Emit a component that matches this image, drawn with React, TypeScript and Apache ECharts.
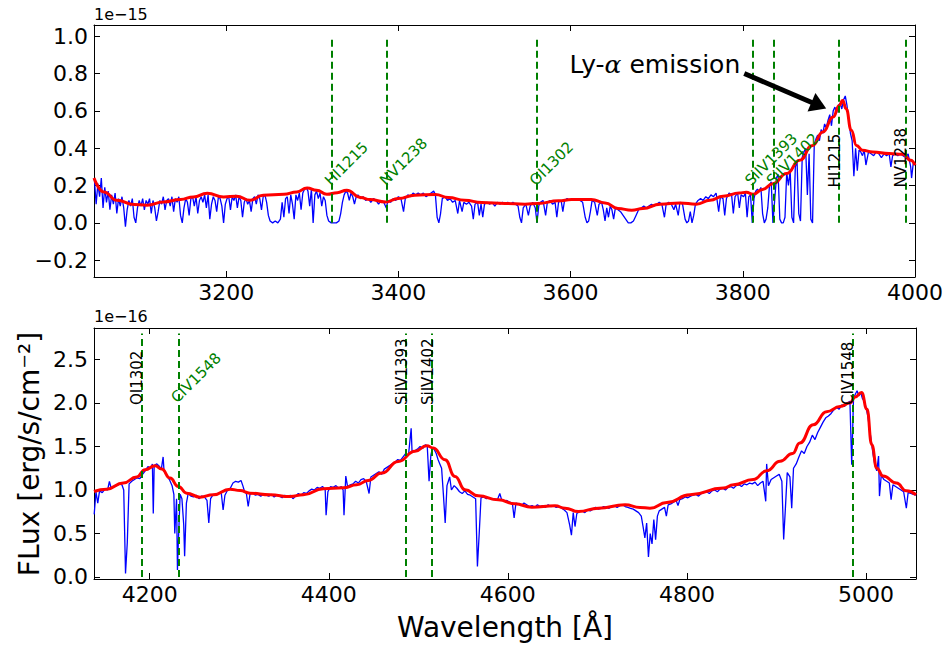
import { useEffect, useRef } from 'react';
import * as echarts from 'echarts';

const FONT = '"DejaVu Sans", "Liberation Sans", sans-serif';

// ---------- axes / ticks ----------
const topXRange = [3046.5, 4000];
const topYRange = [-0.29, 1.06];
const bottomXRange = [4137.8, 5055.8];
const bottomYRange = [-0.023, 2.862];
const topXTicks = [3200, 3400, 3600, 3800, 4000];
const topYTicks = [-0.2, 0, 0.2, 0.4, 0.6, 0.8, 1.0];
const bottomXTicks = [4200, 4400, 4600, 4800, 5000];
const bottomYTicks = [0, 0.5, 1.0, 1.5, 2.0, 2.5];

// ---------- line identifications ----------
const topGreenLines = [3323, 3387, 3561, 3811, 3836];
const topGreenNames = ['HI1215', 'NV1238', 'OI1302', 'SiIV1393', 'SiIV1402'];
const topBlackLines = [3912, 3989];
const topBlackNames = ['HI1215', 'NV1238'];
const bottomGreenLines = [4232];
const bottomGreenNames = ['CIV1548'];
const bottomBlackLines = [4191, 4486, 4515, 4985];
const bottomBlackNames = ['OI1302', 'SiIV1393', 'SiIV1402', 'CIV1548'];
const topLineTop = 1.0;
const topLabelY = 0.2;
const bottomLineTop = 2.8;
const bottomLabelY = 2.0;
const lyaTextPos = [3600, 0.8];
const lyaArrowFrom = [3801.7, 0.8];
const lyaArrowTo = [3888.3, 0.629];

// ---------- top spectrum (x1e-15) ----------
const topBlue = [
  [3047,0.23],[3049,0.10],[3051,0.21],[3053,0.14],[3055,0.24],[3057,0.08],[3059,0.19],[3061,0.11],[3063,0.17],[3065,0.07],
  [3067,0.15],[3069,0.10],[3071,0.16],[3073,0.05],[3075,0.13],[3077,0.09],[3079,0.14],[3081,0.08],[3083,-0.02],[3085,0.07],
  [3087,0.12],[3089,0.09],[3091,0.13],[3093,0.03],[3095,0.00],[3097,0.08],[3099,0.12],[3101,0.09],[3103,0.13],[3105,0.07],
  [3107,0.12],[3109,0.10],[3111,0.13],[3113,0.05],[3115,0.12],[3117,0.08],[3119,0.01],[3121,0.06],[3123,0.12],[3125,0.10],
  [3127,0.14],[3129,0.07],[3131,0.12],[3133,0.13],[3135,0.09],[3137,0.14],[3139,0.06],[3141,0.13],[3143,0.11],[3145,0.14],
  [3147,0.04],[3149,0.00],[3151,0.08],[3153,0.13],[3155,0.11],[3157,0.04],[3159,0.13],[3161,0.14],[3163,0.09],[3165,0.14],
  [3167,0.05],[3169,0.12],[3171,0.14],[3173,0.11],[3175,0.15],[3177,0.08],[3179,0.15],[3181,0.02],[3183,0.10],[3185,0.14],
  [3187,0.12],[3189,0.06],[3191,0.14],[3193,0.13],[3195,0.09],[3197,0.00],[3199,0.10],[3201,0.13],[3203,0.14],[3205,0.07],
  [3207,0.14],[3209,0.12],[3211,0.15],[3213,0.08],[3215,0.14],[3217,0.12],[3219,0.03],[3221,0.11],[3223,0.13],[3225,0.10],
  [3227,0.12],[3229,0.06],[3231,0.13],[3233,0.14],[3235,0.10],[3237,0.15],[3239,0.13],[3241,0.07],[3243,0.14],[3245,0.15],
  [3247,0.11],[3249,0.04],[3251,0.01],[3254,0.00],[3257,0.01],[3260,0.00],[3263,0.02],[3265,0.11],[3267,0.03],[3269,0.13],
  [3271,0.14],[3273,0.05],[3275,0.15],[3277,0.10],[3279,0.02],[3281,0.15],[3283,0.12],[3285,0.16],[3287,0.07],[3289,0.16],
  [3291,0.18],[3293,0.19],[3295,0.17],[3297,0.09],[3299,0.18],[3301,0.00],[3303,0.15],[3305,0.17],[3307,0.13],[3309,0.16],
  [3311,0.09],[3313,0.14],[3315,0.12],[3317,0.04],[3319,0.01],[3322,0.00],[3325,0.00],[3328,0.00],[3331,0.01],[3333,0.05],
  [3335,0.11],[3337,0.15],[3339,0.17],[3341,0.16],[3343,0.12],[3345,0.16],[3347,0.14],[3349,0.10],[3351,0.14],[3353,0.15],
  [3356,0.13],[3359,0.14],[3362,0.12],[3365,0.13],[3368,0.11],[3371,0.13],[3374,0.12],[3377,0.10],[3380,0.12],[3383,0.11],
  [3386,0.08],[3388,0.12],[3391,0.11],[3394,0.13],[3397,0.12],[3400,0.14],[3403,0.13],[3406,0.06],[3408,0.13],[3411,0.15],
  [3414,0.14],[3417,0.16],[3420,0.15],[3423,0.16],[3426,0.15],[3429,0.16],[3432,0.14],[3435,0.15],[3438,0.16],[3441,0.17],
  [3443,0.15],[3445,0.03],[3447,0.00],[3449,0.05],[3451,0.13],[3454,0.14],[3457,0.12],[3460,0.13],[3463,0.11],[3466,0.12],
  [3469,0.05],[3471,0.12],[3474,0.06],[3476,0.11],[3479,0.10],[3482,0.11],[3485,0.09],[3487,0.02],[3489,0.10],[3492,0.11],
  [3494,0.04],[3496,0.10],[3498,0.03],[3500,0.10],[3503,0.11],[3506,0.10],[3509,0.11],[3512,0.09],[3515,0.11],[3518,0.10],
  [3521,0.11],[3524,0.10],[3527,0.11],[3530,0.10],[3533,0.11],[3536,0.10],[3539,0.09],[3541,0.03],[3543,0.00],[3545,0.08],
  [3548,0.10],[3551,0.04],[3553,0.09],[3556,0.11],[3559,0.08],[3561,0.00],[3563,0.09],[3565,0.11],[3568,0.12],[3571,0.04],
  [3573,0.11],[3576,0.12],[3579,0.10],[3582,0.11],[3584,0.03],[3586,0.11],[3589,0.12],[3591,0.06],[3593,0.12],[3596,0.13],
  [3599,0.12],[3602,0.13],[3605,0.12],[3608,0.13],[3611,0.12],[3614,0.11],[3617,0.03],[3619,0.00],[3621,0.01],[3623,0.06],
  [3625,0.12],[3628,0.11],[3631,0.04],[3633,0.10],[3636,0.11],[3638,0.07],[3640,0.01],[3642,0.08],[3644,0.03],[3646,0.09],
  [3648,0.07],[3650,0.02],[3652,0.08],[3655,0.07],[3658,0.06],[3661,0.04],[3664,0.02],[3667,0.00],[3670,0.00],[3673,0.01],
  [3676,0.04],[3679,0.07],[3682,0.08],[3685,0.09],[3688,0.08],[3691,0.09],[3694,0.10],[3697,0.09],[3700,0.10],[3703,0.11],
  [3706,0.10],[3709,0.03],[3711,0.10],[3714,0.11],[3717,0.10],[3720,0.07],[3722,0.10],[3725,0.04],[3727,0.11],[3730,0.10],
  [3733,0.02],[3735,0.00],[3737,0.01],[3739,0.06],[3741,0.00],[3743,0.04],[3745,0.10],[3748,0.12],[3751,0.13],[3754,0.12],
  [3757,0.14],[3760,0.13],[3763,0.15],[3766,0.14],[3769,0.16],[3772,0.06],[3774,0.14],[3777,0.13],[3779,0.04],[3781,0.13],
  [3784,0.16],[3787,0.15],[3789,0.05],[3791,0.14],[3794,0.16],[3796,0.08],[3798,0.15],[3801,0.14],[3803,0.16],[3805,0.03],
  [3807,0.14],[3809,0.15],[3811,0.00],[3813,0.13],[3815,0.17],[3817,0.18],[3819,0.17],[3821,0.19],[3823,0.05],[3825,0.00],
  [3827,0.02],[3829,0.08],[3831,0.20],[3833,0.22],[3835,0.00],[3837,0.12],[3839,0.24],[3841,0.26],[3843,0.02],[3845,0.00],
  [3847,0.00],[3849,0.03],[3851,0.27],[3853,0.20],[3855,0.28],[3857,0.03],[3859,0.00],[3861,0.30],[3863,0.33],[3865,0.05],
  [3867,0.01],[3869,0.35],[3871,0.38],[3873,0.40],[3875,0.15],[3877,0.37],[3879,0.02],[3881,0.00],[3883,0.42],[3885,0.45],
  [3887,0.47],[3889,0.44],[3891,0.50],[3893,0.48],[3895,0.53],[3897,0.51],[3899,0.55],[3901,0.58],[3903,0.52],[3905,0.60],
  [3907,0.62],[3909,0.59],[3911,0.63],[3913,0.64],[3915,0.61],[3917,0.66],[3919,0.68],[3921,0.63],[3923,0.55],[3925,0.48],
  [3927,0.44],[3929,0.25],[3931,0.40],[3933,0.28],[3935,0.39],[3937,0.38],[3939,0.36],[3941,0.39],[3943,0.31],[3946,0.38],
  [3949,0.37],[3952,0.36],[3955,0.38],[3958,0.37],[3961,0.35],[3964,0.37],[3967,0.36],[3970,0.37],[3972,0.30],[3974,0.36],
  [3977,0.37],[3980,0.36],[3983,0.37],[3986,0.36],[3989,0.35],[3992,0.37],[3995,0.30],[3996,0.24],[3998,0.32],[4000,0.31],
];
const topRed = [
  [3046.5,0.24],[3058,0.166],[3073,0.121],[3093,0.098],[3108,0.095],[3127,0.112],[3147,0.125],[3162,0.139],[3178,0.158],
  [3197,0.139],[3212,0.143],[3228,0.121],[3243,0.148],[3267,0.153],[3282,0.166],[3294,0.187],[3305,0.175],[3317,0.153],
  [3329,0.162],[3340,0.175],[3356,0.136],[3367,0.125],[3385,0.112],[3400,0.130],[3419,0.148],[3443,0.152],[3458,0.136],
  [3477,0.121],[3497,0.109],[3524,0.104],[3547,0.100],[3562,0.104],[3586,0.118],[3601,0.125],[3624,0.125],[3640,0.107],
  [3655,0.077],[3671,0.068],[3684,0.077],[3704,0.100],[3727,0.107],[3746,0.100],[3762,0.121],[3777,0.143],[3796,0.160],
  [3804,0.164],[3812,0.153],[3823,0.179],[3835,0.21],[3851,0.264],[3866,0.335],[3881,0.415],[3893,0.487],[3905,0.567],
  [3912,0.629],[3916,0.655],[3920,0.612],[3926,0.496],[3932,0.415],[3939,0.389],[3951,0.38],[3970,0.371],[3986,0.367],
  [3995,0.335],[4000,0.309],
];

// ---------- bottom spectrum (x1e-16) ----------
const bottomBlue = [
  [4138,0.72],[4140,0.98],[4142,0.85],[4144,0.99],[4147,0.97],[4150,1.01],[4153,1.00],[4155,1.10],[4157,1.02],[4160,1.04],
  [4163,1.05],[4166,1.07],[4169,1.06],[4171,1.00],[4173,0.04],[4175,0.40],[4177,1.07],[4180,1.10],[4183,1.12],[4186,1.14],
  [4189,1.13],[4192,1.18],[4195,1.22],[4198,1.27],[4201,1.25],[4203,1.30],[4204,0.73],[4205,1.28],[4208,1.30],[4211,1.27],
  [4213,1.24],[4215,1.38],[4216,1.22],[4219,1.17],[4222,1.12],[4225,1.05],[4227,0.95],[4228,0.50],[4230,0.90],[4231,0.08],
  [4232,0.40],[4234,0.95],[4236,0.90],[4238,0.60],[4239,0.24],[4241,0.85],[4243,0.96],[4246,0.93],[4249,0.92],[4252,0.94],
  [4255,0.90],[4258,0.93],[4261,0.92],[4264,0.88],[4266,0.62],[4268,0.90],[4271,0.95],[4274,0.94],[4277,0.97],[4280,0.96],
  [4282,0.77],[4284,0.94],[4287,1.00],[4290,1.02],[4293,1.08],[4296,1.10],[4299,1.09],[4302,1.11],[4304,1.05],[4306,0.98],
  [4308,0.96],[4310,0.81],[4312,0.95],[4315,0.97],[4318,0.94],[4321,0.95],[4324,0.93],[4327,0.95],[4330,0.94],[4333,0.93],
  [4336,0.95],[4339,0.92],[4342,0.94],[4345,0.93],[4348,0.91],[4351,0.94],[4354,0.92],[4357,0.94],[4360,0.90],[4363,0.93],
  [4366,0.96],[4369,0.94],[4372,0.97],[4375,0.96],[4378,0.99],[4381,1.01],[4384,1.00],[4387,1.03],[4390,1.02],[4393,1.04],
  [4396,1.00],[4397,0.71],[4399,0.98],[4402,1.04],[4405,1.03],[4408,1.05],[4411,1.02],[4414,1.04],[4416,1.00],[4417,0.71],
  [4419,1.16],[4421,1.04],[4424,1.06],[4427,1.07],[4430,1.10],[4433,1.08],[4436,1.12],[4439,1.13],[4442,1.09],[4445,0.96],
  [4447,1.15],[4450,1.17],[4453,1.19],[4456,1.21],[4459,1.18],[4462,1.24],[4465,1.26],[4468,1.28],[4471,1.30],[4474,1.32],
  [4477,1.35],[4480,1.34],[4483,1.38],[4486,1.42],[4489,1.40],[4492,1.71],[4493,1.44],[4496,1.45],[4499,1.47],[4502,1.50],
  [4505,1.48],[4508,1.52],[4510,1.50],[4512,1.10],[4514,1.40],[4516,1.49],[4518,1.46],[4520,1.42],[4522,1.35],[4524,1.30],
  [4526,1.25],[4528,0.95],[4530,0.62],[4532,1.05],[4535,1.15],[4537,1.00],[4540,1.05],[4543,1.02],[4546,0.98],[4549,0.96],
  [4552,0.99],[4555,0.95],[4558,0.94],[4561,0.92],[4564,0.90],[4566,0.12],[4568,0.50],[4570,0.91],[4573,0.92],[4576,0.90],
  [4579,0.91],[4582,0.89],[4585,0.90],[4588,0.88],[4591,0.96],[4593,0.89],[4596,0.87],[4599,0.88],[4602,0.86],[4605,0.85],
  [4607,0.68],[4609,0.85],[4612,0.84],[4615,0.82],[4618,0.85],[4621,0.83],[4624,0.81],[4627,0.82],[4630,0.80],[4633,0.83],
  [4636,0.81],[4639,0.82],[4642,0.80],[4645,0.83],[4648,0.81],[4651,0.82],[4654,0.80],[4657,0.81],[4660,0.79],[4663,0.77],
  [4666,0.74],[4669,0.60],[4671,0.48],[4673,0.74],[4675,0.58],[4677,0.73],[4680,0.75],[4683,0.76],[4686,0.74],[4689,0.77],
  [4692,0.76],[4695,0.78],[4698,0.80],[4701,0.78],[4704,0.79],[4707,0.81],[4710,0.80],[4713,0.79],[4716,0.81],[4719,0.82],
  [4722,0.80],[4725,0.82],[4728,0.83],[4731,0.81],[4734,0.80],[4737,0.79],[4740,0.78],[4743,0.76],[4746,0.74],[4749,0.70],
  [4751,0.58],[4753,0.45],[4755,0.62],[4757,0.23],[4759,0.50],[4761,0.38],[4763,0.66],[4765,0.43],[4767,0.70],[4769,0.76],
  [4772,0.78],[4775,0.80],[4777,0.70],[4779,0.83],[4782,0.84],[4785,0.86],[4788,0.88],[4790,0.82],[4792,0.89],[4795,0.90],
  [4798,0.92],[4801,0.91],[4804,0.93],[4807,0.94],[4810,0.95],[4813,0.93],[4816,0.96],[4819,0.97],[4822,0.98],[4825,0.96],
  [4828,0.99],[4831,1.00],[4834,0.98],[4837,1.01],[4840,1.02],[4843,1.00],[4846,1.03],[4849,1.04],[4852,1.02],[4855,1.05],
  [4858,1.06],[4861,1.04],[4864,1.07],[4867,1.06],[4870,1.08],[4873,1.07],[4876,1.09],[4879,1.05],[4882,1.08],[4885,1.10],
  [4888,0.87],[4889,1.30],[4891,1.05],[4894,1.12],[4897,1.14],[4900,1.16],[4903,1.18],[4906,1.10],[4908,0.43],[4910,0.80],
  [4912,1.20],[4915,1.15],[4917,0.79],[4919,1.25],[4922,1.30],[4925,1.38],[4928,1.45],[4931,1.42],[4934,1.50],[4937,1.55],
  [4940,1.63],[4943,1.58],[4946,1.66],[4949,1.72],[4952,1.78],[4955,1.83],[4958,1.85],[4961,1.88],[4964,1.92],[4967,1.95],
  [4970,1.93],[4973,1.98],[4976,1.96],[4979,2.00],[4982,2.02],[4984,1.29],[4986,2.05],[4988,2.10],[4990,2.14],[4992,2.08],
  [4994,2.12],[4996,2.05],[4998,2.02],[5000,1.95],[5002,1.85],[5004,1.70],[5006,1.55],[5008,1.40],[5010,1.28],[5012,1.22],
  [5014,1.39],[5015,0.93],[5017,1.17],[5020,1.12],[5023,1.10],[5026,1.08],[5028,0.89],[5030,1.06],[5033,1.04],[5036,1.02],
  [5039,1.00],[5042,0.98],[5045,0.79],[5047,0.97],[5050,0.96],[5053,0.95],[5056,0.94],
];
const bottomRed = [
  [4137.8,0.983],[4152,1.01],[4170.5,1.08],[4185.5,1.15],[4194.8,1.233],[4206,1.279],[4213.4,1.24],[4222.7,1.137],
  [4232,1.04],[4241.3,0.964],[4256.2,0.918],[4271,0.945],[4289.7,1.01],[4300.9,0.994],[4312,0.964],[4334.4,0.945],
  [4356.7,0.925],[4371.6,0.945],[4393.9,1.014],[4416.2,1.025],[4431.2,1.06],[4444.1,1.11],[4459.1,1.194],[4477.6,1.328],
  [4496.3,1.444],[4509.4,1.509],[4516.7,1.482],[4529.8,1.348],[4541,1.156],[4552.2,1.002],[4567,0.933],[4589.4,0.887],
  [4608,0.841],[4626.7,0.803],[4652.7,0.818],[4663.9,0.791],[4678.7,0.752],[4701.1,0.791],[4730.9,0.829],[4747.6,0.80],
  [4758.7,0.79],[4777.4,0.856],[4803.4,0.945],[4840.6,1.022],[4852,1.06],[4874,1.12],[4889,1.22],[4904,1.33],[4918,1.42],
  [4926,1.54],[4941,1.75],[4956,1.90],[4971,1.96],[4982,2.0],[4988,2.07],[4995,2.12],[5001,1.93],[5006.4,1.52],
  [5012,1.25],[5019,1.16],[5034,1.08],[5045,0.99],[5055.8,0.945],
];

const GRIDS = [
  { left: 94, top: 25, width: 822, height: 252 },
  { left: 94, top: 328, width: 822, height: 251 },
];

const fmtX = (v: number) => String(Math.round(v));
const fmtY = (v: number) => (v < -1e-9 ? '\u2212' : '') + Math.abs(v).toFixed(1);

function xAxis(grid: number, range: number[], ticks: number[], position: string, labels: boolean) {
  return {
    type: 'value', gridIndex: grid, min: range[0], max: range[1], position,
    axisLine: { show: true, onZero: false, lineStyle: { color: '#000', width: 1 } },
    axisTick: { show: true, inside: true, length: 6, customValues: ticks, lineStyle: { color: '#000', width: 1 } },
    axisLabel: {
      show: labels, customValues: ticks, formatter: fmtX, color: '#000', fontSize: 22,
      fontFamily: FONT, margin: 4,
    },
    splitLine: { show: false },
  };
}
function yAxis(grid: number, range: number[], ticks: number[], position: string, labels: boolean) {
  return {
    type: 'value', gridIndex: grid, min: range[0], max: range[1], position,
    axisLine: { show: true, onZero: false, lineStyle: { color: '#000', width: 1 } },
    axisTick: { show: true, inside: true, length: 6, customValues: ticks, lineStyle: { color: '#000', width: 1 } },
    axisLabel: {
      show: labels, customValues: ticks, formatter: fmtY, color: '#000', fontSize: 22,
      fontFamily: FONT, margin: 6,
    },
    splitLine: { show: false },
  };
}

function idLines(xi: number, yi: number, lines: number[], top: number) {
  return {
    type: 'line', xAxisIndex: xi, yAxisIndex: yi, data: [], z: 4, silent: true,
    markLine: {
      silent: true, symbol: ['none', 'none'], animation: false,
      label: { show: false },
      lineStyle: { color: '#008000', width: 2, type: [7, 4] },
      emphasis: { disabled: true },
      data: lines.map((x) => [{ coord: [x, 0] }, { coord: [x, top] }]),
    },
  };
}

export default function App() {
  const ref = useRef<HTMLDivElement>(null);
  useEffect(() => {
    const el = ref.current!;
    const chart = echarts.init(el, null, { renderer: 'svg' });
    const option: any = {
      animation: false,
      backgroundColor: '#fff',
      grid: GRIDS,
      xAxis: [
        xAxis(0, topXRange, topXTicks, 'bottom', true),
        xAxis(0, topXRange, topXTicks, 'top', false),
        xAxis(1, bottomXRange, bottomXTicks, 'bottom', true),
        xAxis(1, bottomXRange, bottomXTicks, 'top', false),
      ],
      yAxis: [
        yAxis(0, topYRange, topYTicks, 'left', true),
        yAxis(0, topYRange, topYTicks, 'right', false),
        yAxis(1, bottomYRange, bottomYTicks, 'left', true),
        yAxis(1, bottomYRange, bottomYTicks, 'right', false),
      ],
      series: [
        { type: 'line', xAxisIndex: 0, yAxisIndex: 0, data: topBlue, symbol: 'none', silent: true,
          lineStyle: { color: '#0000ff', width: 1.3 }, z: 2 },
        { type: 'line', xAxisIndex: 0, yAxisIndex: 0, data: topRed, symbol: 'none', silent: true,
          smooth: 0.5, smoothMonotone: 'x', lineStyle: { color: '#ff0000', width: 3 }, z: 3 },
        idLines(0, 0, [...topGreenLines, ...topBlackLines], topLineTop),
        { type: 'line', xAxisIndex: 0, yAxisIndex: 0, data: [], z: 5, silent: true,
          markLine: {
            silent: true, symbol: ['none', 'triangle'], symbolSize: [20, 16], animation: false,
            label: { show: false }, emphasis: { disabled: true },
            lineStyle: { color: '#000', width: 5, type: 'solid' },
            itemStyle: { color: '#000' },
            data: [[{ coord: lyaArrowFrom }, { coord: lyaArrowTo }]],
          } },
        { type: 'line', xAxisIndex: 2, yAxisIndex: 2, data: bottomBlue, symbol: 'none', silent: true,
          lineStyle: { color: '#0000ff', width: 1.3 }, z: 2 },
        { type: 'line', xAxisIndex: 2, yAxisIndex: 2, data: bottomRed, symbol: 'none', silent: true,
          smooth: 0.5, smoothMonotone: 'x', lineStyle: { color: '#ff0000', width: 3 }, z: 3 },
        idLines(2, 2, [...bottomGreenLines, ...bottomBlackLines], bottomLineTop),
      ],
    };
    chart.setOption(option);

    const px = (g: number, x: number, y: number) =>
      chart.convertToPixel({ gridIndex: g } as any, [x, y]) as number[];
    const fs = 15;
    const els: any[] = [];
    const txt = (x: number, y: number, rot: number, text: string, fill: string, size: number, align = 'left') => ({
      type: 'text', x, y, rotation: rot, silent: true, z: 10,
      style: {
        text, fill, fontSize: size, fontFamily: FONT,
        align, verticalAlign: 'middle', textAlign: align, textVerticalAlign: 'middle',
      },
    });
    const k = 0.346 * fs;
    const green = (g: number, lines: number[], names: string[], ly: number) => {
      lines.forEach((lam, i) => {
        const [x, y] = px(g, lam, ly);
        const bx = x - 1, by = y + 1;
        els.push(txt(bx - k * 0.7071, by - k * 0.7071, Math.PI / 4, names[i], '#008000', fs));
      });
    };
    const black = (g: number, lines: number[], names: string[], ly: number) => {
      lines.forEach((lam, i) => {
        const [x, y] = px(g, lam, ly);
        els.push(txt(x - k + 1, y + 2, Math.PI / 2, names[i], '#000', fs));
      });
    };
    green(0, topGreenLines, topGreenNames, topLabelY);
    black(0, topBlackLines, topBlackNames, topLabelY);
    green(1, bottomGreenLines, bottomGreenNames, bottomLabelY);
    black(1, bottomBlackLines, bottomBlackNames, bottomLabelY);

    const [lx, ly] = px(0, lyaTextPos[0], lyaTextPos[1]);
    els.push({
      type: 'text', x: lx - 1, y: ly - 0.346 * 25, silent: true, z: 10,
      style: {
        text: '{n|Ly-}{a|\u03b1}{n| emission}',
        align: 'left', verticalAlign: 'middle', textAlign: 'left', textVerticalAlign: 'middle',
        fontSize: 25, fontFamily: FONT, fill: '#000',
        rich: {
          n: { fontSize: 25, fontFamily: FONT, fill: '#000' },
          a: { fontSize: 25, fontFamily: '"DejaVu Serif", serif', fontStyle: 'italic', fill: '#000' },
        },
      },
    });
    els.push(txt(94, 14.6, 0, '1e\u221215', '#000', 16));
    els.push(txt(94, 316.5, 0, '1e\u221216', '#000', 16));
    els.push(txt(29, 454, Math.PI / 2, 'FLux [erg/s/cm\u207b\u00b2]', '#000', 28, 'center'));
    els.push(txt(505, 627, 0, 'Wavelength [\u00c5]', '#000', 28, 'center'));
    chart.setOption({ graphic: { elements: els } });

    return () => chart.dispose();
  }, []);
  return (
    <div
      ref={ref}
      style={{ position: 'absolute', left: 0, top: 0, width: 946, height: 645, background: '#fff' }}
    />
  );
}
